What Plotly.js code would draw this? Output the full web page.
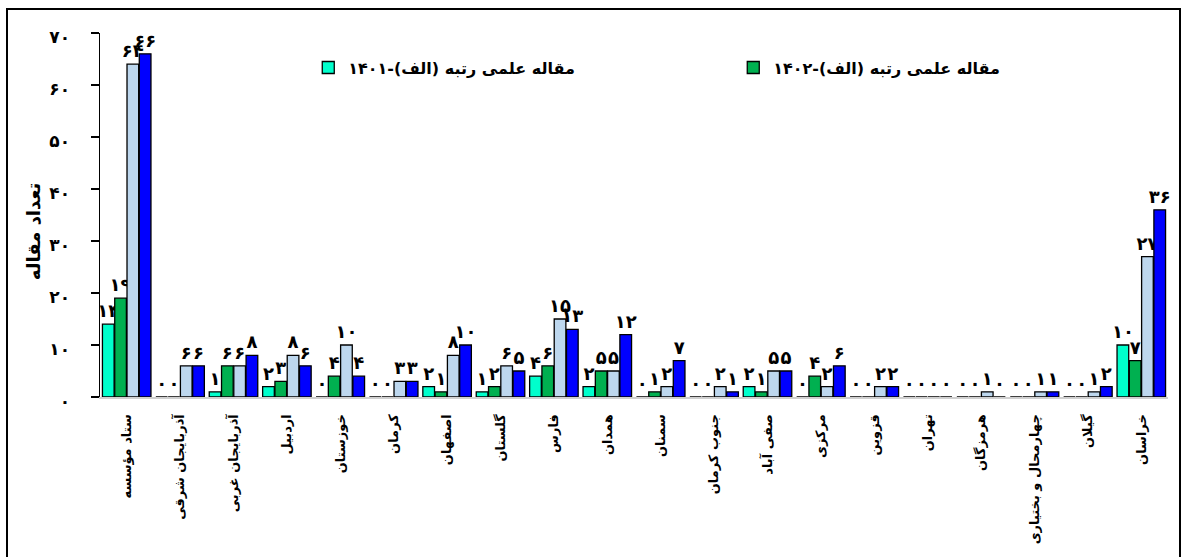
<!DOCTYPE html>
<html>
<head>
<meta charset="utf-8">
<script src="https://cdn.plot.ly/plotly-3.0.1.min.js"></script>
<style>
  html, body { margin: 0; padding: 0; background: #fff; }
  #wrap { position: relative; width: 1183px; height: 557px; overflow: hidden; }
  #frame { position: absolute; left: 6px; top: 8px; width: 1175px; height: 600px; border: 2px solid #000; box-sizing: border-box; pointer-events: none; }
  #chart { position: absolute; left: 0; top: 0; width: 1183px; height: 557px; }
</style>
</head>
<body>
<div id="wrap">
  <div id="chart"></div>
  <div id="frame"></div>
</div>
<script>
const categories = [
  'ستاد مؤسسه', 'آذربایجان شرقی', 'آذربایجان غربی', 'اردبیل', 'خوزستان',
  'کرمان', 'اصفهان', 'گلستان', 'فارس', 'همدان',
  'سمنان', 'جنوب کرمان', 'صفی آباد', 'مرکزی', 'قزوین',
  'تهران', 'هرمزگان', 'چهارمحال و بختیاری', 'گیلان', 'خراسان'
];
const seriesA1401 = [14, 0, 1, 2, 0, 0, 2, 1, 4, 2, 0, 0, 2, 0, 0, 0, 0, 0, 0, 10];
const seriesA1402 = [19, 0, 6, 3, 4, 0, 1, 2, 6, 5, 1, 0, 1, 4, 0, 0, 0, 0, 0, 7];
const seriesC     = [64, 6, 6, 8, 10, 3, 8, 6, 15, 5, 2, 2, 5, 2, 2, 0, 1, 1, 1, 27];
const seriesD     = [66, 6, 8, 6, 4, 3, 10, 5, 13, 12, 7, 1, 5, 6, 2, 0, 0, 1, 2, 36];
const names = ['مقاله علمی رتبه (الف)-۱۴۰۱', 'مقاله علمی رتبه (الف)-۱۴۰۲', 'مقاله علمی رتبه (ب)-۱۴۰۱', 'مقاله علمی رتبه (ب)-۱۴۰۲'];
const yTicks = [0, 10, 20, 30, 40, 50, 60, 70];

const fa = v => String(v).replace(/\d/g, d => '۰۱۲۳۴۵۶۷۸۹'[d]);
const FONT = 'DejaVu Sans, sans-serif';
const colors = ['#00FFCC', '#00B050', '#BDD7EE', '#0000FF'];
const allSeries = [seriesA1401, seriesA1402, seriesC, seriesD];

const traces = allSeries.map((vals, i) => ({
  type: 'bar',
  x: categories,
  y: vals,
  name: names[i],
  showlegend: i < 2,
  marker: { color: colors[i], line: { color: '#000', width: 1.3 } },
  text: vals.map(fa),
  textposition: 'outside',
  constraintext: 'none',
  cliponaxis: false,
  textfont: { family: FONT, size: 18, color: '#000', weight: 'bold' },
  hoverinfo: 'x+y'
}));

const layout = {
  width: 1183,
  height: 557,
  margin: { l: 100, r: 15, t: 33, b: 160, autoexpand: false },
  paper_bgcolor: '#fff',
  plot_bgcolor: '#fff',
  barmode: 'group',
  bargap: 0.08,
  bargroupgap: 0.05,
  font: { family: FONT, color: '#000' },
  showlegend: true,
  legend: {
    orientation: 'h',
    x: 0.195,
    xanchor: 'left',
    y: 0.905,
    yanchor: 'middle',
    entrywidth: 380,
    entrywidthmode: 'pixels',
    font: { family: FONT, size: 16, weight: 'bold', color: '#000' },
    bgcolor: 'rgba(0,0,0,0)'
  },
  xaxis: {
    type: 'category',
    tickangle: -90,
    showline: true,
    linecolor: '#d0d0d0',
    linewidth: 2,
    ticks: '',
    showgrid: false,
    tickfont: { family: FONT, size: 13, weight: 'bold', color: '#000' },
    ticklabelstandoff: 10
  },
  yaxis: {
    range: [0, 70],
    tickvals: yTicks,
    ticktext: yTicks.map(fa),
    showline: true,
    linecolor: '#000',
    linewidth: 1.5,
    ticks: 'outside',
    ticklen: 8,
    tickcolor: '#000',
    tickwidth: 1.5,
    showgrid: false,
    zeroline: false,
    ticklabelstandoff: 17,
    ticklabelshift: 4,
    tickfont: { family: FONT, size: 17, weight: 'bold', color: '#000' }
  },
  annotations: [{
    text: 'تعداد مقاله',
    xref: 'paper', yref: 'paper',
    x: -0.062, y: 0.455,
    xanchor: 'center', yanchor: 'middle',
    textangle: -90,
    showarrow: false,
    font: { family: FONT, size: 18, weight: 'bold', color: '#000' }
  }]
};

Plotly.newPlot('chart', traces, layout, { displayModeBar: false, staticPlot: true });
</script>
</body>
</html>
